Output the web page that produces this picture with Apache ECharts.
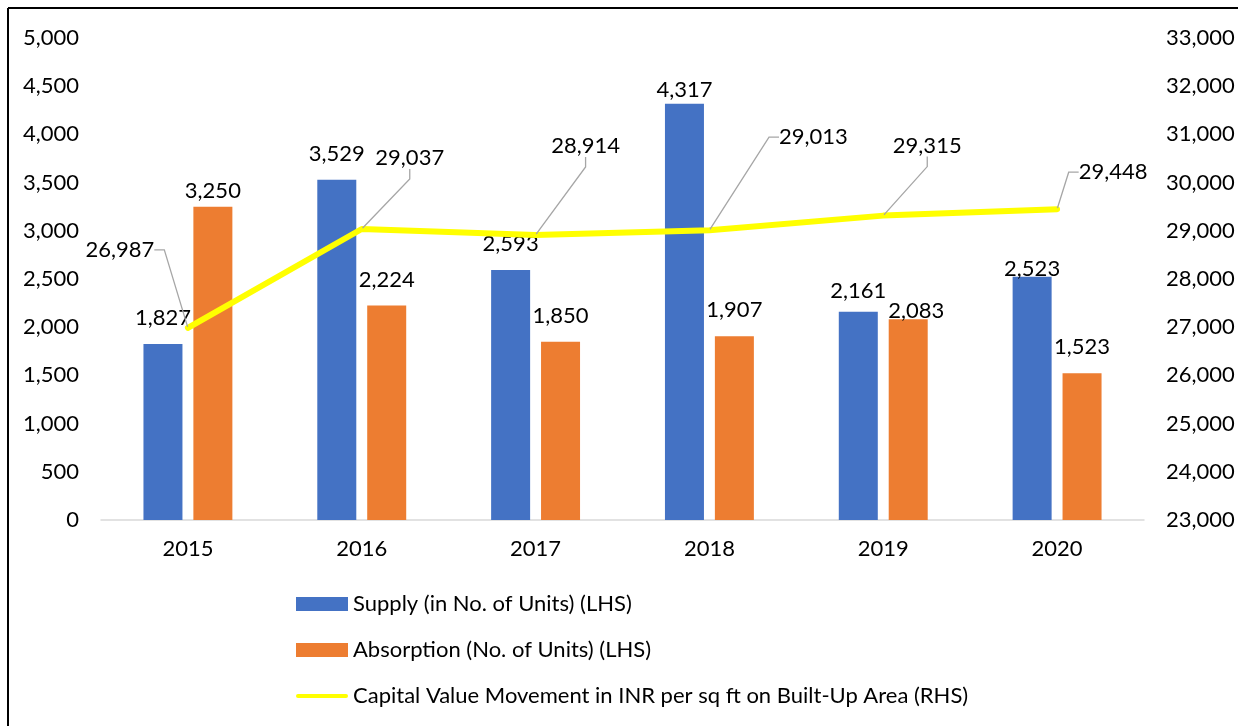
<!DOCTYPE html>
<html>
<head>
<meta charset="utf-8">
<title>Supply, Absorption and Capital Value</title>
<script src="https://cdn.jsdelivr.net/npm/echarts@6/dist/echarts.min.js"></script>
<style>
  html, body { margin: 0; padding: 0; background: #ffffff; }
  #chart { width: 1238px; height: 726px; }
</style>
</head>
<body>
<div id="chart"></div>
<script>
// Years on the category axis
const years = ['2015', '2016', '2017', '2018', '2019', '2020'];

// Units supplied and absorbed per year (left axis)
const supplyUnits = [1827, 3529, 2593, 4317, 2161, 2523];
const absorptionUnits = [3250, 2224, 1850, 1907, 2083, 1523];

// Capital value in INR per sq ft on built-up area (right axis)
const capitalValue = [26987, 29037, 28914, 29013, 29315, 29448];

// Series names shown in the legend
const supplyName = 'Supply (in No. of Units) (LHS)';
const absorptionName = 'Absorption (No. of Units) (LHS)';
const capitalName = 'Capital Value Movement in INR per sq ft on Built-Up Area (RHS)';

// Label nudges [dx, dy] so value labels clear the line and each other
const supplyLabelShift = [[0, 0], [0, 0], [0, 0], [0, 12], [0, 5], [0, 18]];
const absorptionLabelShift = [[0, 10], [0, 0], [0, 0], [0, 0], [8, 18], [0, 0]];
// Capital value labels are pulled away from the line with leader lines
const capitalLabelShift = [[-68, -78], [48, -71], [50, -89], [104, -93], [44, -70], [56, -37]];

const FONT = 'Lato, "Liberation Sans", sans-serif';
const FS = 22;
const fmt = v => Number(v).toLocaleString('en-US');

function withLabelShift(values, shifts) {
  return values.map((v, i) => ({
    value: v,
    label: { offset: shifts[i] }
  }));
}

const chart = echarts.init(document.getElementById('chart'), null, { renderer: 'canvas' });

const option = {
  backgroundColor: '#ffffff',
  animation: false,
  textStyle: { fontFamily: FONT },
  graphic: [
    {
      type: 'line',
      shape: { x1: 8, y1: 8, x2: 1238, y2: 8 },
      style: { stroke: '#000000', lineWidth: 2 },
      silent: true,
      z: 100
    },
    {
      type: 'line',
      shape: { x1: 8, y1: 8, x2: 8, y2: 726 },
      style: { stroke: '#000000', lineWidth: 2 },
      silent: true,
      z: 100
    }
  ],
  grid: {
    left: 101,
    right: 94,
    top: 38,
    bottom: 206,
    containLabel: false
  },
  legend: {
    orient: 'vertical',
    left: 291,
    top: 588,
    itemWidth: 52,
    itemHeight: 14,
    itemGap: 24,
    itemTextGap: 5,
    selectedMode: false,
    textStyle: { fontFamily: FONT, fontSize: FS, color: '#000000' },
    data: [
      { name: supplyName, icon: 'rect' },
      { name: absorptionName, icon: 'rect' },
      {
        name: capitalName,
        icon: 'path://M2,0 L50,0 A2,2 0 0 1 50,4 L2,4 A2,2 0 0 1 2,0 Z',
        itemStyle: { color: '#FFFF00' }
      }
    ]
  },
  xAxis: {
    type: 'category',
    data: years,
    axisLine: { show: true, lineStyle: { color: '#D9D9D9', width: 1.5 } },
    axisTick: { show: false },
    axisLabel: { color: '#000000', fontSize: FS, fontFamily: FONT, margin: 18 },
    splitLine: { show: false }
  },
  yAxis: [
    {
      type: 'value',
      min: 0,
      max: 5000,
      interval: 500,
      position: 'left',
      axisLine: { show: false },
      axisTick: { show: false },
      splitLine: { show: false },
      axisLabel: { color: '#000000', fontSize: FS, fontFamily: FONT, margin: 22, formatter: fmt }
    },
    {
      type: 'value',
      min: 23000,
      max: 33000,
      interval: 1000,
      position: 'right',
      axisLine: { show: false },
      axisTick: { show: false },
      splitLine: { show: false },
      axisLabel: { color: '#000000', fontSize: FS, fontFamily: FONT, margin: 22, formatter: fmt }
    }
  ],
  series: [
    {
      name: supplyName,
      type: 'bar',
      yAxisIndex: 0,
      barWidth: 39,
      barGap: '28%',
      itemStyle: { color: '#4472C4' },
      label: {
        show: true,
        position: 'top',
        distance: 15,
        color: '#000000',
        fontSize: FS,
        fontFamily: FONT,
        formatter: p => fmt(p.value)
      },
      data: withLabelShift(supplyUnits, supplyLabelShift),
      z: 2
    },
    {
      name: absorptionName,
      type: 'bar',
      yAxisIndex: 0,
      barWidth: 39,
      barGap: '28%',
      itemStyle: { color: '#ED7D31' },
      label: {
        show: true,
        position: 'top',
        distance: 15,
        color: '#000000',
        fontSize: FS,
        fontFamily: FONT,
        formatter: p => fmt(p.value)
      },
      data: withLabelShift(absorptionUnits, absorptionLabelShift),
      z: 2
    },
    {
      name: capitalName,
      type: 'line',
      yAxisIndex: 1,
      data: capitalValue,
      symbol: 'circle',
      symbolSize: 2,
      showSymbol: true,
      itemStyle: { color: '#FFFF00' },
      lineStyle: { color: '#FFFF00', width: 6, cap: 'round', join: 'round' },
      label: {
        show: true,
        position: 'inside',
        color: '#000000',
        fontSize: FS,
        fontFamily: FONT,
        formatter: p => fmt(p.value)
      },
      labelLine: {
        show: true,
        length2: 10,
        lineStyle: { color: '#A6A6A6', width: 1.3 }
      },
      labelLayout: params => {
        const s = capitalLabelShift[params.dataIndex];
        return { dx: s[0], dy: s[1] };
      },
      z: 3
    }
  ]
};

chart.setOption(option);
</script>
</body>
</html>
